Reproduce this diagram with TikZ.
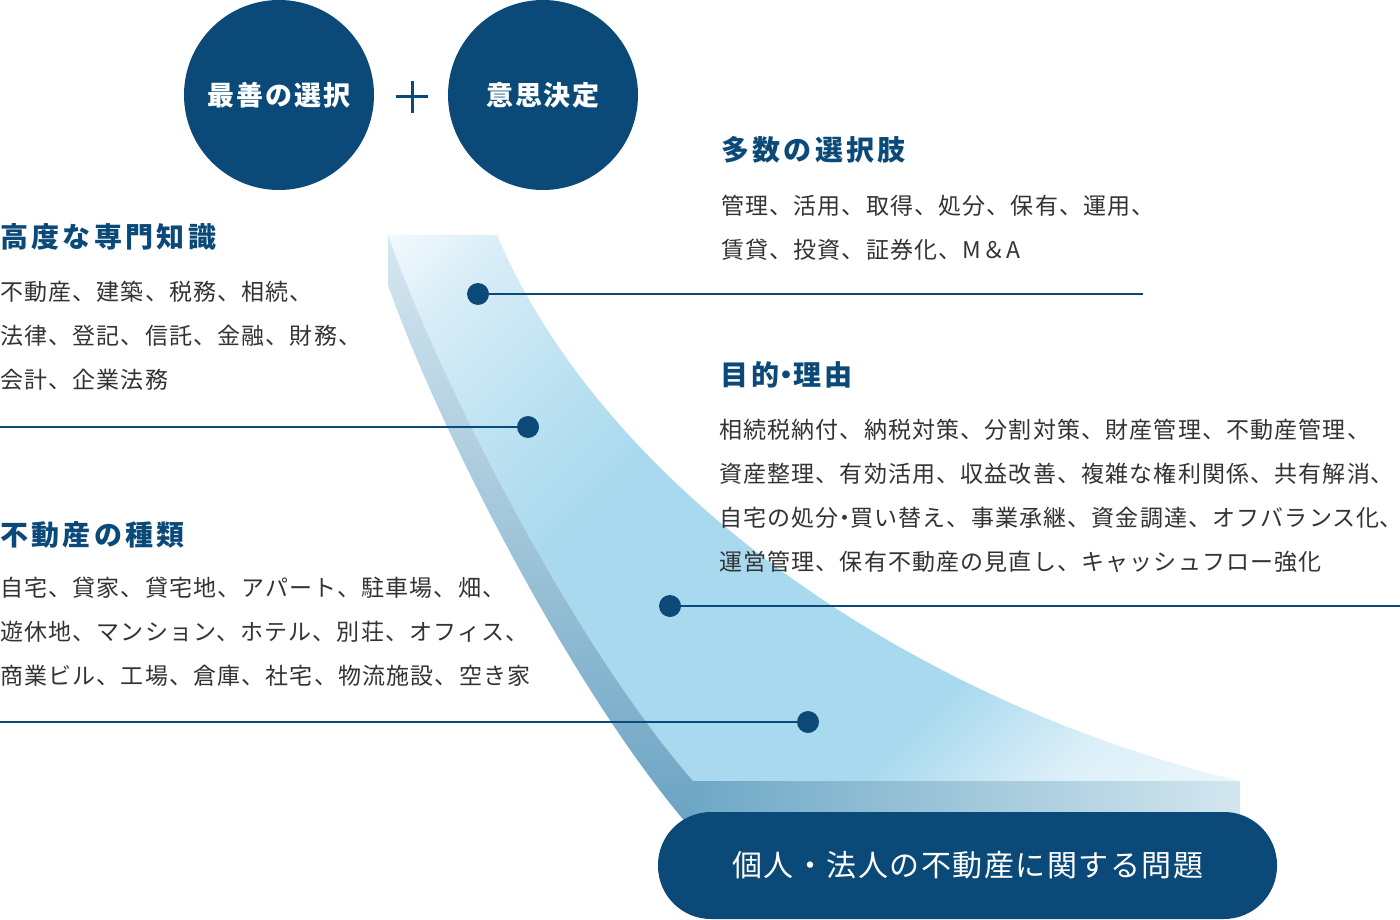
\documentclass[tikz,border=0pt]{standalone}
\usepackage{fontspec}
\setmainfont{Noto Sans CJK JP}
\newfontfamily\ttlfont[LetterSpace=12]{Noto Sans CJK JP}
\newfontfamily\bodyfont[LetterSpace=5]{Noto Sans CJK JP}
\newfontfamily\circfont[LetterSpace=7]{Noto Sans CJK JP}
\newfontfamily\pillfont[LetterSpace=5]{Noto Sans CJK JP}
\newcommand\narrowdot{\makebox[0.5em][c]{・}}
\newcommand\narrowcomma{\makebox[0.5em][l]{、}}
\definecolor{navy}{HTML}{0B4A78}
\definecolor{bodytext}{HTML}{333333}
\definecolor{fA}{HTML}{F2F9FD}
\definecolor{fB}{HTML}{D8EDF7}
\definecolor{fC}{HTML}{BFE3F2}
\definecolor{fD}{HTML}{A9D9EE}
\definecolor{fE}{HTML}{DCEFF8}
\definecolor{fF}{HTML}{ECF6FB}
\definecolor{sideA}{HTML}{D6E7F0}
\definecolor{sideB}{HTML}{6AA3C3}
\definecolor{frontA}{HTML}{6EA8C6}
\definecolor{frontB}{HTML}{D3E6EF}
\pgfdeclarehorizontalshading{topface}{100bp}{color(0bp)=(fA); color(25bp)=(fA); color(29.5bp)=(fB); color(35.5bp)=(fC); color(42bp)=(fD); color(61.5bp)=(fD); color(68.5bp)=(fE); color(75bp)=(fF); color(100bp)=(fF)}
\begin{document}
\begin{tikzpicture}[x=1pt,y=-1pt,
  title/.style={anchor=west, inner sep=0pt, text=navy, font=\ttlfont\bfseries\fontsize{28}{34}\selectfont},
  body/.style={anchor=west, inner sep=0pt, text=bodytext, align=left, font=\bodyfont\fontsize{23}{44}\selectfont},
  dot/.style={circle, fill=navy, minimum size=22pt, inner sep=0pt},
  link/.style={draw=navy, line width=2pt},
  bigc/.style={circle, fill=navy, minimum size=190pt, inner sep=0pt, text=white, font=\circfont\bfseries\fontsize{27}{32}\selectfont},
  pill/.style={rectangle, rounded corners=53pt, fill=navy, minimum width=619pt, minimum height=107pt, inner sep=0pt, text=white, font=\pillfont\fontsize{30}{36}\selectfont},
]
\useasboundingbox (0,0) rectangle (1400,920);
% band: top face
\begin{scope}
\clip (388,235) -- (497,235) .. controls (600,480) and (900,700) .. (1240,781)
  -- (693,781) .. controls (570,640) and (435,370) .. (388,235) -- cycle;
\shade[shading=topface, transform canvas={rotate around={-45:(814,508)}}]
  (320,-200) rectangle (1308,1216);
\end{scope}
% side face
\shade[top color=sideA, bottom color=sideB]
  (388,235) -- (388,285) .. controls (435,420) and (570,690) .. (693,831)
  -- (693,781) .. controls (570,640) and (435,370) .. (388,235) -- cycle;
% front face
\shade[left color=frontA, right color=frontB] (693,781) rectangle (1240,831);

% dots and connectors
\node[dot] (d1) at (478,294) {};
\node[dot] (d2) at (528,427) {};
\node[dot] (d3) at (670,606) {};
\node[dot] (d4) at (808,722) {};
\coordinate (e1) at (1143,294);
\coordinate (e2) at (0,427);
\coordinate (e3) at (1400,606);
\coordinate (e4) at (0,722);
\draw[link] (d1.east) -- (e1);
\draw[link] (e2) -- (d2.west);
\draw[link] (d3.east) -- (e3);
\draw[link] (e4) -- (d4.west);

% circles
\node[bigc] (c1) at (279,95) {最善の選択};
\node[bigc] (c2) at (543,95) {意思決定};
\draw[navy, line width=3pt] (396,97) -- (428,97) (412,81) -- (412,113);

% texts
\node[title] (t1) at (0,237) {高度な専門知識};
\node[body] (b1) at (0,336) {不動産、建築、税務、相続、\\法律、登記、信託、金融、財務、\\会計、企業法務};
\node[title] (t2) at (721,150) {多数の選択肢};
\node[body] (b2) at (721,228) {管理、活用、取得、処分、保有、運用、\\賃貸、投資、証券化、M＆A};
\node[title] (t3) at (720,375) {目的\narrowdot 理由};
\node[body] (b3) at (719,496) {相続税納付、納税対策、分割対策、財産管理、不動産管理、\\資産整理、有効活用、収益改善、複雑な権利関係、共有解消\narrowcomma\\自宅の処分\narrowdot 買い替え、事業承継、資金調達、オフバランス化\narrowcomma\\運営管理、保有不動産の見直し、キャッシュフロー強化};
\node[title] (t4) at (0,535) {不動産の種類};
\node[body] (b4) at (0,632) {自宅、貸家、貸宅地、アパート、駐車場、畑、\\遊休地、マンション、ホテル、別荘、オフィス、\\商業ビル、工場、倉庫、社宅、物流施設、空き家};

% bottom pill
\node[pill] (p) at (967.5,865.5) {個人・法人の不動産に関する問題};
\end{tikzpicture}
\end{document}
